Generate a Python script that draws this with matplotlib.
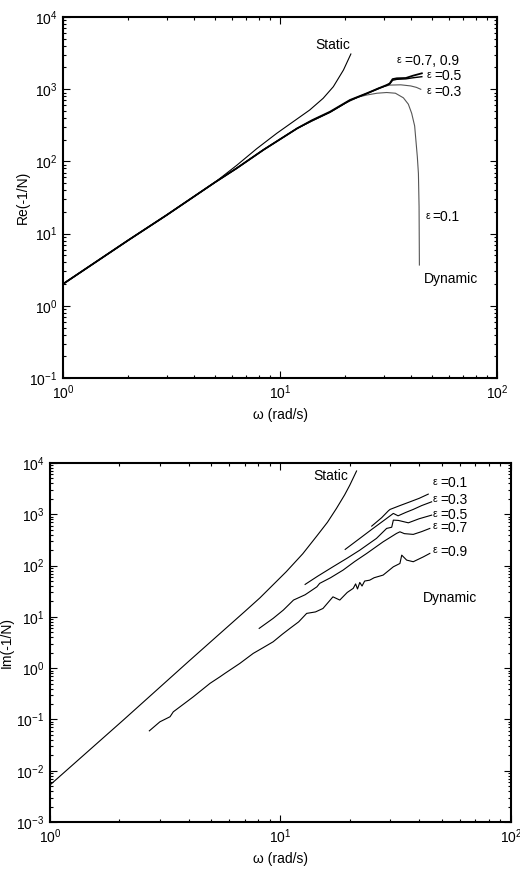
import numpy as np
import matplotlib
matplotlib.use("Agg")
import matplotlib.pyplot as plt
from matplotlib.ticker import LogLocator, NullFormatter

plt.rcParams['font.family'] = ['Liberation Sans', 'DejaVu Sans']
plt.rcParams['mathtext.fontset'] = 'custom'
plt.rcParams['mathtext.rm'] = 'Liberation Sans'
plt.rcParams['axes.unicode_minus'] = False
plt.rcParams['font.size'] = 10

# --- Re(-1/N) panel ---
base_w = [1.0, 2.0, 3.0, 5.0, 6.3, 8.4, 12.0]
base_re = [2.0, 8.1, 18.0, 51.0, 80.0, 145.0, 287.0]

static_re_w = [1.0, 2.0, 3.0, 5.0, 6.31, 7.81, 9.66, 11.5, 13.7, 15.8, 17.6, 19.6, 21.2]
static_re = [2.0, 8.1, 18.0, 51.0, 88.0, 150.0, 245.0, 355.0, 515.0, 748.0, 1083.0, 1845.0, 3073.0]

bundle_w = [14.0, 17.0, 21.0, 25.1, 28.5, 31.0, 32.0, 33.0, 34.5, 38.0, 41.0, 45.0]
eps79_re = [370.0, 488.0, 709.0, 877.0, 1030.0, 1143.0, 1200.0, 1380.0, 1416.0, 1430.0, 1540.0, 1660.0]
eps5_re = [365.0, 480.0, 700.0, 870.0, 1020.0, 1130.0, 1180.0, 1330.0, 1370.0, 1390.0, 1440.0, 1490.0]

eps3_re_w = [14.0, 17.0, 21.0, 25.1, 28.5, 32.0, 36.0, 40.0, 42.5, 44.5]
eps3_re = [365.0, 482.0, 700.0, 870.0, 1040.0, 1140.0, 1150.0, 1110.0, 1060.0, 997.0]

eps1_re_w = [14.0, 17.0, 20.0, 23.0, 25.1, 28.0, 31.0, 34.0, 37.0, 39.0, 40.4, 41.7, 42.9, 43.4, 43.7, 43.85]
eps1_re = [360.0, 478.0, 640.0, 780.0, 831.0, 880.0, 900.0, 880.0, 760.0, 620.0, 464.0, 310.0, 116.0, 68.0, 23.6, 3.67]

# --- Im(-1/N) panel ---
static_im_w = [1.0, 2.08, 4.0, 7.0, 8.15, 10.6, 12.5, 14.4, 16.0, 17.5, 19.0, 20.0, 21.4]
static_im = [0.00526, 0.097, 1.36, 12.7, 23.5, 76.0, 170.0, 380.0, 700.0, 1300.0, 2400.0, 3700.0, 7000.0]

eps1_im_w = [24.9, 27.5, 29.4, 29.9, 33.0, 36.5, 40.0, 43.8]
eps1_im = [589.0, 860.0, 1170.0, 1246.0, 1480.0, 1753.0, 2050.0, 2477.0]

eps3_im_w = [19.1, 22.1, 24.9, 28.9, 30.9, 32.4, 35.0, 37.7, 41.0, 45.3]
eps3_im = [207.0, 339.0, 508.0, 832.0, 1041.0, 935.0, 1090.0, 1246.0, 1480.0, 1753.0]

eps5_im_w = [12.8, 14.5, 16.9, 19.5, 22.1, 26.1, 28.9, 30.4, 30.9, 32.5, 35.9, 40.0, 45.3]
eps5_im = [43.0, 62.0, 94.8, 140.0, 200.0, 339.0, 531.0, 560.0, 771.0, 760.0, 683.0, 820.0, 964.0]

eps7_im_w = [8.09, 9.3, 10.3, 11.4, 12.8, 14.4, 14.8, 16.5, 18.7, 21.0, 23.7, 27.9, 31.9, 33.0, 34.5, 37.7, 41.0, 44.5]
eps7_im = [5.97, 9.35, 13.6, 21.3, 27.0, 38.6, 45.0, 58.0, 81.7, 120.0, 173.0, 291.0, 424.0, 456.0, 420.0, 406.0, 460.0, 531.0]

eps9_im_w = [2.70, 3.0, 3.32, 3.43, 3.92, 4.19, 4.95, 5.47, 5.74, 6.67, 7.62, 8.4, 9.3, 10.2, 11.0,
             12.0, 13.0, 14.2, 15.3, 16.9, 18.1, 19.5, 20.7, 21.2, 21.6, 22.1, 22.6, 23.2, 24.4,
             25.5, 27.9, 30.9, 33.0, 33.6, 35.3, 37.7, 41.7, 44.5]
eps9_im = [0.060, 0.090, 0.113, 0.141, 0.221, 0.277, 0.506, 0.68, 0.79, 1.24, 1.94, 2.5, 3.27, 4.6, 5.97,
           8.0, 11.7, 12.5, 14.6, 24.6, 21.3, 30.0, 36.0, 44.0, 35.0, 47.0, 40.0, 50.0, 52.0,
           58.0, 65.3, 94.8, 110.0, 160.0, 128.0, 119.0, 148.0, 173.0]

fig = plt.figure(figsize=(5.2, 8.72), dpi=100)
ax1 = fig.add_axes([0.121, 0.5665, 0.835, 0.414])
ax2 = fig.add_axes([0.096, 0.0573, 0.8865, 0.4117])


def style(ax, ylo, yhi):
    ax.set_xscale('log')
    ax.set_yscale('log')
    ax.set_xlim(1, 100)
    ax.set_ylim(ylo, yhi)
    ax.yaxis.set_major_locator(LogLocator(base=10, numticks=20))
    ax.yaxis.set_minor_locator(LogLocator(base=10, subs=np.arange(2, 10), numticks=20))
    ax.yaxis.set_minor_formatter(NullFormatter())
    ax.xaxis.set_minor_formatter(NullFormatter())
    ax.tick_params(which='both', direction='in', top=True, right=True, width=0.8)
    ax.tick_params(which='major', length=5, labelsize=10, pad=4)
    ax.tick_params(which='minor', length=2.5)
    for s in ax.spines.values():
        s.set_linewidth(1.5)
    ax.set_xlabel('ω (rad/s)')


def eps_label(ax, x, y, rest):
    # small epsilon followed by the value, as in the original figure
    ax.annotate('ε', (x, y), xytext=(0, 1), textcoords='offset points',
                fontsize=7.5, ha='left', va='center')
    ax.annotate(rest, (x, y), xytext=(5.5, 0), textcoords='offset points',
                fontsize=10, ha='left', va='center')


style(ax1, 0.1, 1e4)
lw = 0.8
gray = '#555555'
ax1.plot(static_re_w, static_re, color='k', lw=lw)
ax1.plot(np.concatenate([base_w, eps1_re_w]), np.concatenate([base_re, eps1_re]), color=gray, lw=lw)
ax1.plot(np.concatenate([base_w, eps3_re_w]), np.concatenate([base_re, eps3_re]), color=gray, lw=lw)
ax1.plot(np.concatenate([base_w, bundle_w]), np.concatenate([base_re, eps5_re]), color='k', lw=1.0)
ax1.plot(np.concatenate([base_w, bundle_w]), np.concatenate([base_re, eps79_re]), color='k', lw=1.3)
ax1.set_ylabel('Re(-1/N)')
ax1.yaxis.set_label_coords(-0.076, 0.5)

ax1.text(21.1, 4090, 'Static', ha='right', va='center')
eps_label(ax1, 34.6, 2457, '=0.7, 0.9')
eps_label(ax1, 47.5, 1523, '=0.5')
eps_label(ax1, 47.5, 915, '=0.3')
eps_label(ax1, 46.6, 17.0, '=0.1')
ax1.text(46.0, 2.35, 'Dynamic', ha='left', va='center')

style(ax2, 1e-3, 1e4)
ax2.plot(static_im_w, static_im, color='k', lw=lw)
ax2.plot(eps1_im_w, eps1_im, color='k', lw=lw)
ax2.plot(eps3_im_w, eps3_im, color='k', lw=lw)
ax2.plot(eps5_im_w, eps5_im, color='k', lw=lw)
ax2.plot(eps7_im_w, eps7_im, color='k', lw=lw)
ax2.plot(eps9_im_w, eps9_im, color='k', lw=lw)
ax2.set_ylabel('Im(-1/N)')
ax2.yaxis.set_label_coords(-0.078, 0.5)

ax2.text(19.6, 5560, 'Static', ha='right', va='center')
for lab, yv in [('=0.1', 4060), ('=0.3', 1890), ('=0.5', 964), ('=0.7', 545), ('=0.9', 186)]:
    eps_label(ax2, 45.9, yv, lab)
ax2.text(41.5, 23.2, 'Dynamic', ha='left', va='center')

fig.savefig('out.png', dpi=100)
